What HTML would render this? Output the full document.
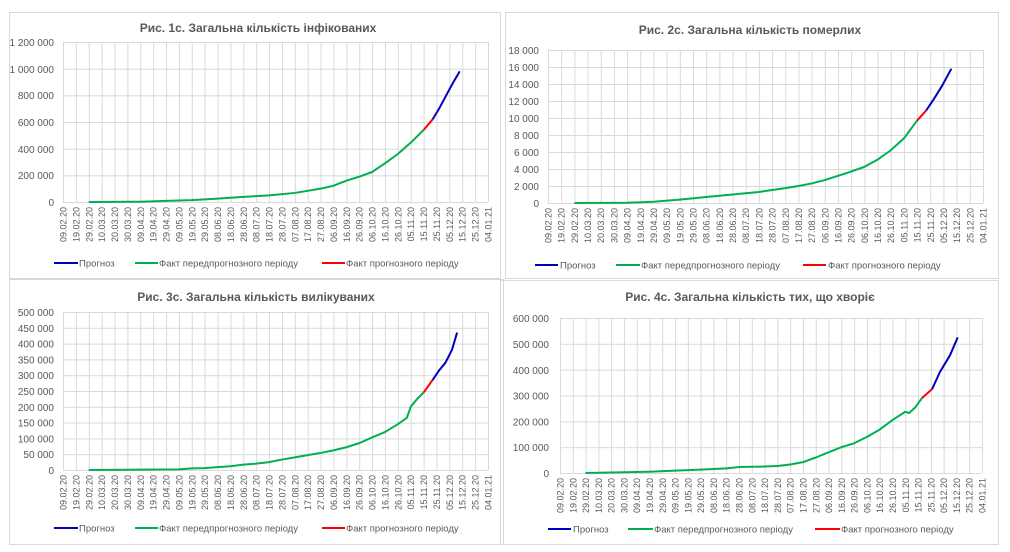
<!DOCTYPE html>
<html><head><meta charset="utf-8"><style>
html,body{margin:0;padding:0;background:#fff;width:1010px;height:552px;overflow:hidden}
svg{display:block;font-family:"Liberation Sans",sans-serif}
.t{font-size:12px;font-weight:bold;fill:#595959}
.yl{font-size:10px;fill:#595959;text-anchor:end}
.d{font-size:9px;fill:#595959;text-anchor:end}
.lg{font-size:9.5px;fill:#595959}
.s{fill:none;stroke-width:2;vector-effect:non-scaling-stroke;stroke-linejoin:round}
</style></head><body>
<svg width="1010" height="552" viewBox="0 0 1010 552">
<defs>
<pattern id="v1" patternUnits="userSpaceOnUse" x="63" y="0" width="12.879" height="10"><rect width="1" height="10" fill="#d9d9d9"/></pattern>
<pattern id="v2" patternUnits="userSpaceOnUse" x="548" y="0" width="13.182" height="10"><rect width="1" height="10" fill="#d9d9d9"/></pattern>
<pattern id="v4" patternUnits="userSpaceOnUse" x="560" y="0" width="12.788" height="10"><rect width="1" height="10" fill="#d9d9d9"/></pattern>
<pattern id="h1" patternUnits="userSpaceOnUse" x="0" y="42" width="10" height="26.667"><rect width="10" height="1" fill="#d9d9d9"/></pattern>
<pattern id="h2" patternUnits="userSpaceOnUse" x="0" y="50" width="10" height="17"><rect width="10" height="1" fill="#d9d9d9"/></pattern>
<pattern id="h3" patternUnits="userSpaceOnUse" x="0" y="312" width="10" height="15.8"><rect width="10" height="1" fill="#d9d9d9"/></pattern>
<pattern id="h4" patternUnits="userSpaceOnUse" x="0" y="318" width="10" height="25.833"><rect width="10" height="1" fill="#d9d9d9"/></pattern>
</defs>
<rect x="9.5" y="12.5" width="491" height="266" fill="none" stroke="#d9d9d9"/>
<rect x="505.5" y="12.5" width="493" height="266" fill="none" stroke="#d9d9d9"/>
<rect x="9.5" y="279.5" width="494" height="265" fill="none" stroke="#d9d9d9"/>
<rect x="500.5" y="280.5" width="498" height="264" fill="none" stroke="#d9d9d9"/>

<text class="t" x="258" y="32" text-anchor="middle">Рис. 1с. Загальна кількість інфікованих</text>
<rect x="63" y="42" width="426" height="160" fill="url(#v1)"/>
<rect x="63" y="42" width="425" height="161" fill="url(#h1)"/>
<g class="yl"><text x="54" y="46">1 200 000</text><text x="54" y="73">1 000 000</text><text x="54" y="99">800 000</text><text x="54" y="126">600 000</text><text x="54" y="153">400 000</text><text x="54" y="179">200 000</text><text x="54" y="206">0</text></g>
<g transform="translate(63,207) rotate(-90)" class="d">
<text x="0" y="3.5">09.02.20</text><text x="0" y="16.4">19.02.20</text><text x="0" y="29.3">29.02.20</text><text x="0" y="42.1">10.03.20</text><text x="0" y="55">20.03.20</text><text x="0" y="67.9">30.03.20</text><text x="0" y="80.8">09.04.20</text><text x="0" y="93.7">19.04.20</text><text x="0" y="106.5">29.04.20</text><text x="0" y="119.4">09.05.20</text><text x="0" y="132.3">19.05.20</text><text x="0" y="145.2">29.05.20</text><text x="0" y="158">08.06.20</text><text x="0" y="170.9">18.06.20</text><text x="0" y="183.8">28.06.20</text><text x="0" y="196.7">08.07.20</text><text x="0" y="209.6">18.07.20</text><text x="0" y="222.4">28.07.20</text><text x="0" y="235.3">07.08.20</text><text x="0" y="248.2">17.08.20</text><text x="0" y="261.1">27.08.20</text><text x="0" y="274">06.09.20</text><text x="0" y="286.8">16.09.20</text><text x="0" y="299.7">26.09.20</text><text x="0" y="312.6">06.10.20</text><text x="0" y="325.5">16.10.20</text><text x="0" y="338.4">26.10.20</text><text x="0" y="351.2">05.11.20</text><text x="0" y="364.1">15.11.20</text><text x="0" y="377">25.11.20</text><text x="0" y="389.9">05.12.20</text><text x="0" y="402.7">15.12.20</text><text x="0" y="415.6">25.12.20</text><text x="0" y="428.5">04.01.21</text>
</g>
<g transform="translate(63,202) scale(12.879,-0.13333)">
<polyline class="s" stroke="#00b050" points="2,0 4,1 6,2 8,8 10,14 12,25 14,38 16,50 18,68 20,100 21,122 22,160 23,190 24,225 25,290 26,360 27,445 28,540"/>
<polyline class="s" stroke="#ff0000" points="28,540 28.35,580 28.7,620"/>
<polyline class="s" stroke="#0000c0" points="28.7,620 29.2,700 29.7,790 30.2,880 30.8,980"/>
</g>
<line x1="54" y1="263" x2="78" y2="263" stroke="#0000c0" stroke-width="2"/><text class="lg" x="79" y="266.5">Прогноз</text>
<line x1="135" y1="263" x2="158" y2="263" stroke="#00b050" stroke-width="2"/><text class="lg" x="159" y="266.5">Факт передпрогнозного періоду</text>
<line x1="322" y1="263" x2="345" y2="263" stroke="#ff0000" stroke-width="2"/><text class="lg" x="346" y="266.5">Факт прогнозного періоду</text>

<text class="t" x="750" y="34" text-anchor="middle">Рис. 2с. Загальна кількість померлих</text>
<rect x="548" y="50" width="436" height="153" fill="url(#v2)"/>
<rect x="548" y="50" width="435" height="154" fill="url(#h2)"/>
<g class="yl"><text x="539" y="54">18 000</text><text x="539" y="71">16 000</text><text x="539" y="88">14 000</text><text x="539" y="105">12 000</text><text x="539" y="122">10 000</text><text x="539" y="139">8 000</text><text x="539" y="156">6 000</text><text x="539" y="173">4 000</text><text x="539" y="190">2 000</text><text x="539" y="207">0</text></g>
<g transform="translate(548,208) rotate(-90)" class="d">
<text x="0" y="3.5">09.02.20</text><text x="0" y="16.7">19.02.20</text><text x="0" y="29.9">29.02.20</text><text x="0" y="43">10.03.20</text><text x="0" y="56.2">20.03.20</text><text x="0" y="69.4">30.03.20</text><text x="0" y="82.6">09.04.20</text><text x="0" y="95.8">19.04.20</text><text x="0" y="109">29.04.20</text><text x="0" y="122.1">09.05.20</text><text x="0" y="135.3">19.05.20</text><text x="0" y="148.5">29.05.20</text><text x="0" y="161.7">08.06.20</text><text x="0" y="174.9">18.06.20</text><text x="0" y="188">28.06.20</text><text x="0" y="201.2">08.07.20</text><text x="0" y="214.4">18.07.20</text><text x="0" y="227.6">28.07.20</text><text x="0" y="240.8">07.08.20</text><text x="0" y="254">17.08.20</text><text x="0" y="267.1">27.08.20</text><text x="0" y="280.3">06.09.20</text><text x="0" y="293.5">16.09.20</text><text x="0" y="306.7">26.09.20</text><text x="0" y="319.9">06.10.20</text><text x="0" y="333">16.10.20</text><text x="0" y="346.2">26.10.20</text><text x="0" y="359.4">05.11.20</text><text x="0" y="372.6">15.11.20</text><text x="0" y="385.8">25.11.20</text><text x="0" y="399">05.12.20</text><text x="0" y="412.1">15.12.20</text><text x="0" y="425.3">25.12.20</text><text x="0" y="438.5">04.01.21</text>
</g>
<g transform="translate(548,203) scale(13.182,-0.0085)">
<polyline class="s" stroke="#00b050" points="2,0 6,30 8,150 10,400 12,700 14,1000 16,1300 18,1750 19,2000 20,2300 21,2700 22,3200 23,3700 24,4250 25,5100 26,6200 27,7600 28,9700"/>
<polyline class="s" stroke="#ff0000" points="28,9700 28.7,10900"/>
<polyline class="s" stroke="#0000c0" points="28.7,10900 29.3,12300 29.9,13800 30.6,15800"/>
</g>
<line x1="535" y1="265" x2="558" y2="265" stroke="#0000c0" stroke-width="2"/><text class="lg" x="560" y="268.5">Прогноз</text>
<line x1="616" y1="265" x2="640" y2="265" stroke="#00b050" stroke-width="2"/><text class="lg" x="641" y="268.5">Факт передпрогнозного періоду</text>
<line x1="803" y1="265" x2="826" y2="265" stroke="#ff0000" stroke-width="2"/><text class="lg" x="828" y="268.5">Факт прогнозного періоду</text>

<text class="t" x="256" y="301" text-anchor="middle">Рис. 3с. Загальна кількість вилікуваних</text>
<rect x="63" y="312" width="426" height="158" fill="url(#v1)"/>
<rect x="63" y="312" width="425" height="159" fill="url(#h3)"/>
<g class="yl"><text x="54" y="316">500 000</text><text x="54" y="332">450 000</text><text x="54" y="347.6">400 000</text><text x="54" y="363.4">350 000</text><text x="54" y="379">300 000</text><text x="54" y="395">250 000</text><text x="54" y="411">200 000</text><text x="54" y="426.6">150 000</text><text x="54" y="442.4">100 000</text><text x="54" y="458">50 000</text><text x="54" y="474">0</text></g>
<g transform="translate(63,475) rotate(-90)" class="d">
<text x="0" y="3.5">09.02.20</text><text x="0" y="16.4">19.02.20</text><text x="0" y="29.3">29.02.20</text><text x="0" y="42.1">10.03.20</text><text x="0" y="55">20.03.20</text><text x="0" y="67.9">30.03.20</text><text x="0" y="80.8">09.04.20</text><text x="0" y="93.7">19.04.20</text><text x="0" y="106.5">29.04.20</text><text x="0" y="119.4">09.05.20</text><text x="0" y="132.3">19.05.20</text><text x="0" y="145.2">29.05.20</text><text x="0" y="158">08.06.20</text><text x="0" y="170.9">18.06.20</text><text x="0" y="183.8">28.06.20</text><text x="0" y="196.7">08.07.20</text><text x="0" y="209.6">18.07.20</text><text x="0" y="222.4">28.07.20</text><text x="0" y="235.3">07.08.20</text><text x="0" y="248.2">17.08.20</text><text x="0" y="261.1">27.08.20</text><text x="0" y="274">06.09.20</text><text x="0" y="286.8">16.09.20</text><text x="0" y="299.7">26.09.20</text><text x="0" y="312.6">06.10.20</text><text x="0" y="325.5">16.10.20</text><text x="0" y="338.4">26.10.20</text><text x="0" y="351.2">05.11.20</text><text x="0" y="364.1">15.11.20</text><text x="0" y="377">25.11.20</text><text x="0" y="389.9">05.12.20</text><text x="0" y="402.7">15.12.20</text><text x="0" y="415.6">25.12.20</text><text x="0" y="428.5">04.01.21</text>
</g>
<g transform="translate(63,470) scale(12.879,-0.316)">
<polyline class="s" stroke="#00b050" points="2,0 9,2 10,5 11,6 12,9 13,12 14,17 15,20 16,25 17,33 18,40 19,47 20,54 21,62 22,72 23,85 24,103 25,120 26,145 26.7,165 27,200 27.5,225 28,245"/>
<polyline class="s" stroke="#ff0000" points="28,245 28.7,285"/>
<polyline class="s" stroke="#0000c0" points="28.7,285 29.2,315 29.7,340 30.2,380 30.6,435"/>
</g>
<line x1="54" y1="528" x2="78" y2="528" stroke="#0000c0" stroke-width="2"/><text class="lg" x="79" y="531.5">Прогноз</text>
<line x1="135" y1="528" x2="158" y2="528" stroke="#00b050" stroke-width="2"/><text class="lg" x="159" y="531.5">Факт передпрогнозного періоду</text>
<line x1="322" y1="528" x2="345" y2="528" stroke="#ff0000" stroke-width="2"/><text class="lg" x="346" y="531.5">Факт прогнозного періоду</text>

<text class="t" x="750" y="301" text-anchor="middle">Рис. 4с. Загальна кількість тих, що хворіє</text>
<rect x="560" y="318" width="423" height="155" fill="url(#v4)"/>
<rect x="560" y="318" width="422" height="156" fill="url(#h4)"/>
<g class="yl"><text x="549" y="322">600 000</text><text x="549" y="348">500 000</text><text x="549" y="374">400 000</text><text x="549" y="399.5">300 000</text><text x="549" y="425.3">200 000</text><text x="549" y="451">100 000</text><text x="549" y="477">0</text></g>
<g transform="translate(560,478) rotate(-90)" class="d">
<text x="0" y="3.5">09.02.20</text><text x="0" y="16.3">19.02.20</text><text x="0" y="29.1">29.02.20</text><text x="0" y="41.9">10.03.20</text><text x="0" y="54.7">20.03.20</text><text x="0" y="67.4">30.03.20</text><text x="0" y="80.2">09.04.20</text><text x="0" y="93">19.04.20</text><text x="0" y="105.8">29.04.20</text><text x="0" y="118.6">09.05.20</text><text x="0" y="131.4">19.05.20</text><text x="0" y="144.2">29.05.20</text><text x="0" y="157">08.06.20</text><text x="0" y="169.7">18.06.20</text><text x="0" y="182.5">28.06.20</text><text x="0" y="195.3">08.07.20</text><text x="0" y="208.1">18.07.20</text><text x="0" y="220.9">28.07.20</text><text x="0" y="233.7">07.08.20</text><text x="0" y="246.5">17.08.20</text><text x="0" y="259.3">27.08.20</text><text x="0" y="272">06.09.20</text><text x="0" y="284.8">16.09.20</text><text x="0" y="297.6">26.09.20</text><text x="0" y="310.4">06.10.20</text><text x="0" y="323.2">16.10.20</text><text x="0" y="336">26.10.20</text><text x="0" y="348.8">05.11.20</text><text x="0" y="361.6">15.11.20</text><text x="0" y="374.3">25.11.20</text><text x="0" y="387.1">05.12.20</text><text x="0" y="399.9">15.12.20</text><text x="0" y="412.7">25.12.20</text><text x="0" y="425.5">04.01.21</text>
</g>
<g transform="translate(560,473) scale(12.788,-0.25833)">
<polyline class="s" stroke="#00b050" points="2,0 7,5 9,9 11,13 13,18 14,23 15,24 16,25 17,27 18,33 19,42 20,60 21,80 22,100 23,115 24,140 25,168 26,205 27,237 27.3,232 27.8,255 28.3,290"/>
<polyline class="s" stroke="#ff0000" points="28.3,290 29.1,325"/>
<polyline class="s" stroke="#0000c0" points="29.1,325 29.7,390 30.5,456 31.1,525"/>
</g>
<line x1="548" y1="529" x2="571" y2="529" stroke="#0000c0" stroke-width="2"/><text class="lg" x="573" y="532.5">Прогноз</text>
<line x1="628" y1="529" x2="653" y2="529" stroke="#00b050" stroke-width="2"/><text class="lg" x="654" y="532.5">Факт передпрогнозного періоду</text>
<line x1="815" y1="529" x2="840" y2="529" stroke="#ff0000" stroke-width="2"/><text class="lg" x="841" y="532.5">Факт прогнозного періоду</text>
</svg>
</body></html>
